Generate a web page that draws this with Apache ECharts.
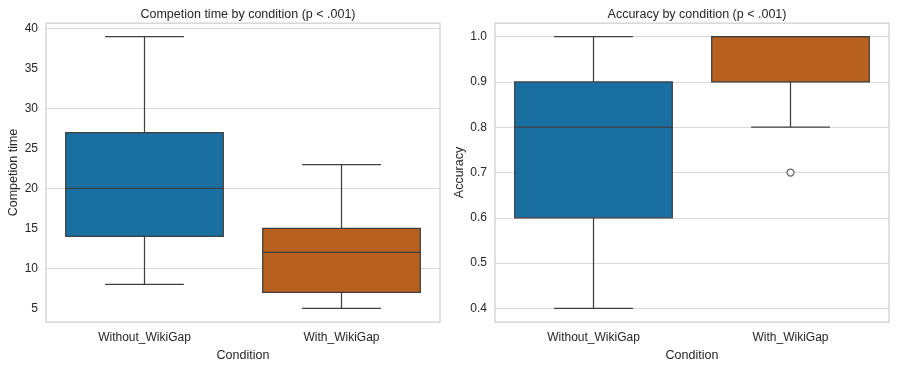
<!DOCTYPE html>
<html lang="en">
<head>
<meta charset="UTF-8">
<title>Boxplots by condition</title>
<script src="https://cdn.jsdelivr.net/npm/echarts@6/dist/echarts.min.js"></script>
<style>
  html, body { margin: 0; padding: 0; background: #fff; }
  #chart { width: 897px; height: 367px; }
</style>
</head>
<body>
<div id="chart"></div>
<script>
// data
var conditions = ['Without_WikiGap', 'With_WikiGap'];
var colors = ['#1a6fa1', '#b8601f'];
// [min, q1, median, q3, max]
var timeStats = [[8, 14, 20, 27, 39], [5, 7, 12, 15, 23]];
var accStats = [[0.4, 0.6, 0.8, 0.9, 1.0], [0.8, 0.9, 1.0, 1.0, 1.0]];
var accOutliers = [[1, 0.7]];
var timeTicks = [5, 10, 15, 20, 25, 30, 35, 40];
var accTicks = [0.4, 0.5, 0.6, 0.7, 0.8, 0.9, 1.0];

var chart = echarts.init(document.getElementById('chart'), null, {renderer: 'canvas'});
var font = '"Liberation Sans", Arial, sans-serif';
var edge = '#3f3f3f';
var ink = '#262626';

function boxItem(params, api) {
  var i = api.value(0);
  var lo = api.coord([i, api.value(1)]);
  var q1 = api.coord([i, api.value(2)]);
  var med = api.coord([i, api.value(3)]);
  var q3 = api.coord([i, api.value(4)]);
  var hi = api.coord([i, api.value(5)]);
  var w = api.size([1, 0])[0] * 0.8;
  var x = lo[0];
  var ls = {stroke: edge, lineWidth: 1.25};
  return {
    type: 'group',
    children: [
      {type: 'line', shape: {x1: x, y1: q1[1], x2: x, y2: lo[1]}, style: ls},
      {type: 'line', shape: {x1: x, y1: q3[1], x2: x, y2: hi[1]}, style: ls},
      {type: 'line', shape: {x1: x - w / 4, y1: lo[1], x2: x + w / 4, y2: lo[1]}, style: ls},
      {type: 'line', shape: {x1: x - w / 4, y1: hi[1], x2: x + w / 4, y2: hi[1]}, style: ls},
      {type: 'rect', shape: {x: x - w / 2, y: q3[1], width: w, height: q1[1] - q3[1]},
        style: {fill: colors[i], stroke: edge, lineWidth: 1.25}},
      {type: 'line', shape: {x1: x - w / 2, y1: med[1], x2: x + w / 2, y2: med[1]}, style: ls}
    ]
  };
}

function rows(stats) {
  return stats.map(function (s, i) { return [i].concat(s); });
}

function xAxis(idx) {
  return {
    type: 'category', gridIndex: idx, data: conditions,
    name: 'Condition', nameLocation: 'middle', nameGap: 26,
    nameTextStyle: {fontFamily: font, fontSize: 12.5, color: ink},
    axisLine: {show: false}, axisTick: {show: false},
    axisLabel: {fontFamily: font, fontSize: 12, color: ink, margin: 10},
    splitLine: {show: false}
  };
}

function yAxis(idx, name, min, max, ticks, dec, gap) {
  return {
    type: 'value', gridIndex: idx, min: min, max: max,
    name: name, nameLocation: 'middle', nameGap: gap,
    nameTextStyle: {fontFamily: font, fontSize: 12.5, color: ink},
    axisLine: {show: false}, axisTick: {show: false},
    axisLabel: {
      fontFamily: font, fontSize: 12, color: ink, margin: 8,
      customValues: ticks,
      formatter: function (v) { return dec ? v.toFixed(1) : String(v); }
    },
    splitLine: {lineStyle: {color: '#d9d9d9', width: 1}},
    customValues: ticks
  };
}

var option = {
  animation: false,
  title: [
    {text: 'Competion time by condition (p < .001)', left: 243, top: 3, textAlign: 'center',
      textStyle: {fontFamily: font, fontSize: 12.5, fontWeight: 'normal', color: ink}},
    {text: 'Accuracy by condition (p < .001)', left: 692, top: 3, textAlign: 'center',
      textStyle: {fontFamily: font, fontSize: 12.5, fontWeight: 'normal', color: ink}}
  ],
  grid: [
    {left: 46, right: 457, top: 23, bottom: 45, show: true, borderColor: '#d0d0d0', borderWidth: 1.25, backgroundColor: '#fff'},
    {left: 495, right: 8, top: 23, bottom: 45, show: true, borderColor: '#d0d0d0', borderWidth: 1.25, backgroundColor: '#fff'}
  ],
  xAxis: [xAxis(0), xAxis(1)],
  yAxis: [
    yAxis(0, 'Competion time', 3.3, 40.7, timeTicks, false, 26),
    yAxis(1, 'Accuracy', 0.37, 1.03, accTicks, true, 29)
  ],
  series: [
    {type: 'custom', xAxisIndex: 0, yAxisIndex: 0, data: rows(timeStats), renderItem: boxItem,
      encode: {x: 0, y: [1, 2, 3, 4, 5]}},
    {type: 'custom', xAxisIndex: 1, yAxisIndex: 1, data: rows(accStats), renderItem: boxItem,
      encode: {x: 0, y: [1, 2, 3, 4, 5]}},
    {type: 'scatter', xAxisIndex: 1, yAxisIndex: 1, data: accOutliers,
      symbol: 'circle', symbolSize: 7,
      itemStyle: {color: '#fff', borderColor: edge, borderWidth: 1.25}}
  ]
};
chart.setOption(option);
</script>
</body>
</html>
